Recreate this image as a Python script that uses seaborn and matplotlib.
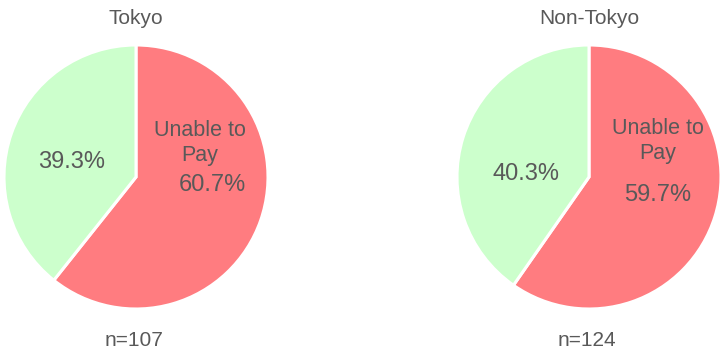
import matplotlib
matplotlib.use("Agg")
import matplotlib.pyplot as plt
import seaborn as sns

# --- data ---
regions = ["Tokyo", "Non-Tokyo"]
unable_pct = [60.7, 59.7]
able_pct = [39.3, 40.3]
sample_n = [107, 124]
slice_label = "Unable to\nPay"

RED = "#FF7C80"
GREEN = "#CCFFCC"
TEXT = "#595959"

sns.set_theme(style="white")
plt.rcParams["font.family"] = ["Liberation Sans", "DejaVu Sans"]

W, H = 721, 352
fig = plt.figure(figsize=(W / 100, H / 100), dpi=100)

# pie centres / radius in pixels
centres = [(136, 177), (589, 177)]
r = 132
# label offsets (fraction of radius)
green_pos = [(-0.49, 0.11), (-0.48, 0.02)]
name_pos = [(0.485, 0.26), (0.52, 0.27)]
pct_pos = [(0.58, -0.06), (0.52, -0.14)]

for i, region in enumerate(regions):
    cx, cy = centres[i]
    ax = fig.add_axes([(cx - r) / W, (H - cy - r) / H, 2 * r / W, 2 * r / H])
    ax.pie([unable_pct[i], able_pct[i]], colors=[RED, GREEN], startangle=90,
           counterclock=False, radius=1,
           wedgeprops=dict(edgecolor="white", linewidth=2.2))
    ax.set_xlim(-1.0, 1.0)
    ax.set_ylim(-1.0, 1.0)
    ax.set_aspect("equal")
    ax.axis("off")

    ax.text(*green_pos[i], f"{able_pct[i]:.1f}%", ha="center", va="center",
            fontsize=17, color=TEXT)
    ax.text(*name_pos[i], slice_label, ha="center", va="center",
            fontsize=15.5, color=TEXT, linespacing=1.25)
    ax.text(*pct_pos[i], f"{unable_pct[i]:.1f}%", ha="center", va="center",
            fontsize=17, color=TEXT)

    fig.text(cx / W, 1 - 18 / H, region, ha="center", va="center",
             fontsize=15, color=TEXT)
    fig.text((cx - 2) / W, 1 - 340 / H, f"n={sample_n[i]}", ha="center",
             va="center", fontsize=15, color=TEXT)

fig.savefig("out.png", dpi=100, facecolor="white")
